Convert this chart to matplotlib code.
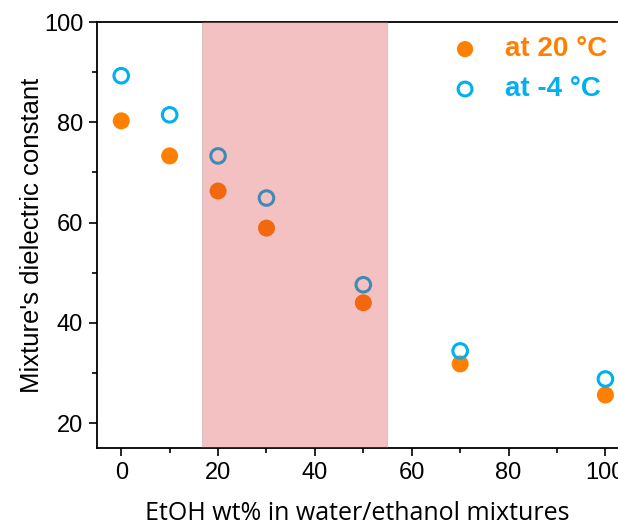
import matplotlib.pyplot as plt
from matplotlib.ticker import MultipleLocator

# data
etoh_wt = [0, 10, 20, 30, 50, 70, 100]
eps_20C = [80.3, 73.3, 66.3, 58.9, 44.0, 31.8, 25.6]
eps_m4C = [89.3, 81.5, 73.3, 64.9, 47.6, 34.4, 28.8]
band = (16.7, 54.8)

orange = '#FF8000'
blue = '#00B0F0'

plt.rcParams['font.family'] = ['Liberation Sans', 'DejaVu Sans']

fig = plt.figure(figsize=(6.18, 5.26), dpi=100)
ax = fig.add_axes([0.157, 0.148, 0.843, 0.81])

ax.scatter(etoh_wt, eps_20C, s=150, color=orange, edgecolors='none', zorder=2, label='at 20 °C')
ax.scatter(etoh_wt, eps_m4C, s=110, facecolors='none', edgecolors=blue, linewidths=2.2, zorder=2, label='at -4 °C')

# shaded band sits over the points, so they look darker inside it
ax.axvspan(band[0], band[1], facecolor=(0.85, 0.2, 0.2), alpha=0.3, edgecolor='#a08080', linewidth=0.8, zorder=3)

ax.set_xlim(-5, 102.6)
ax.set_ylim(15, 100)
ax.xaxis.set_major_locator(MultipleLocator(20))
ax.xaxis.set_minor_locator(MultipleLocator(10))
ax.yaxis.set_major_locator(MultipleLocator(20))
ax.yaxis.set_minor_locator(MultipleLocator(10))
ax.tick_params(which='major', direction='out', length=6, width=1.2, labelsize=17, pad=4)
ax.tick_params(which='minor', direction='out', length=3.5, width=1.2)
ax.spines['right'].set_visible(False)
for s in ['left', 'bottom', 'top']:
    ax.spines[s].set_linewidth(1.3)

ax.set_ylabel("Mixture's dielectric constant", fontsize=18.5, labelpad=0)
ax.set_xlabel('EtOH wt% in water/ethanol mixtures', fontsize=18, labelpad=12,
              family=['Open Sans', 'DejaVu Sans'])

leg = ax.legend(loc='upper right', bbox_to_anchor=(1.028, 1.025), frameon=False,
                prop={'size': 20, 'weight': 'bold'}, handletextpad=0.45, labelspacing=0.5,
                markerscale=0.95)
for t, c in zip(leg.get_texts(), [orange, blue]):
    t.set_color(c)

fig.savefig('out.png', dpi=100)
